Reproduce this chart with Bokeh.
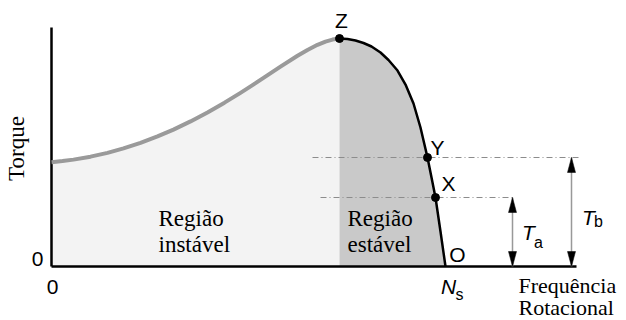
import numpy as np
from bokeh.plotting import figure
from bokeh.models import Range1d
from bokeh.core.properties import value
from bokeh.embed import file_html
from bokeh.resources import INLINE

# Torque-speed characteristic of an induction motor
# speed in % of synchronous speed Ns, torque in % of breakdown torque
speed_pct = [0, 2.79, 5.58, 9.90, 14.21, 18.27, 22.59, 26.90, 30.96, 35.28, 39.59,
             43.91, 47.97, 51.02, 53.81, 58.12, 62.44, 64.97, 67.51, 69.54, 71.32,
             73.10, 75.13, 77.16, 79.19, 81.22, 83.50, 85.53, 87.82, 89.85, 91.88,
             93.65, 95.43, 96.45, 97.46, 98.73, 100]
torque_pct = [45.75, 46.24, 46.88, 48.17, 49.85, 51.78, 54.22, 57.04, 60.05, 63.63, 67.59,
              71.86, 76.16, 79.55, 82.75, 87.70, 92.43, 94.98, 97.22, 98.65, 99.53,
              100.0, 99.78, 99.12, 98.03, 96.49, 93.86, 90.57, 85.96, 79.82, 71.49,
              60.96, 47.81, 39.04, 30.26, 15.35, 0]

# named operating points on the curve
point_names = ["Z", "Y", "X"]
point_speed = [73.10, 95.43, 97.46]
point_torque = [100.0, 47.81, 30.26]

breakdown_speed = point_speed[0]
torque_a = point_torque[2]
torque_b = point_torque[1]

# pixel layout helpers (origin of the axes and scale in px per unit)
W, H = 626, 320
OX, OY = 51, 266
SX, SY = 3.94, 2.28


def dx(px):
    return (px - OX) / SX


def dy(py):
    return (OY - py) / SY


p = figure(width=W, height=H, x_range=Range1d(dx(0), dx(W)), y_range=Range1d(dy(H), dy(0)),
           output_backend="svg", toolbar_location=None, min_border=0,
           x_axis_location=None, y_axis_location=None)
p.grid.visible = False
p.outline_line_color = None
p.background_fill_color = "white"
p.border_fill_color = "white"

s = np.array(speed_pct)
t = np.array(torque_pct)
unstable = s <= breakdown_speed
stable = s >= breakdown_speed

# shaded regions
p.varea(x=s[unstable], y1=0, y2=t[unstable], fill_color="#f3f3f3")
p.varea(x=s[stable], y1=0, y2=t[stable], fill_color="#c9c9c9")

# reference levels for the two load torques
dash = "6 3 1 3"
p.line(x=[dx(312), dx(578)], y=[torque_b, torque_b], line_color="#8c8c8c",
       line_width=1.2, line_dash=dash)
p.line(x=[dx(320), dx(515)], y=[torque_a, torque_a], line_color="#8c8c8c",
       line_width=1.2, line_dash=dash)

# axes drawn as plain lines
p.line(x=[0, 0], y=[0, dy(27)], line_color="black", line_width=2.5)
p.line(x=[0, dx(576)], y=[0, 0], line_color="black", line_width=2.5)

# the characteristic curve
p.line(x=s[unstable], y=t[unstable], line_color="#9a9a9a", line_width=4, line_join="round")
p.line(x=s[stable], y=t[stable], line_color="black", line_width=2.5, line_join="round")

p.scatter(x=point_speed, y=point_torque, size=8, fill_color="black", line_color="black")

# double headed dimension arrows for Ta and Tb
head_len = 15 / SY
head_half = 4 / SX
for ax_px, level in [(512, torque_a), (571, torque_b)]:
    xa = dx(ax_px)
    p.line(x=[xa, xa], y=[0, level], line_color="#999999", line_width=1.5)
    p.patches(xs=[[xa - head_half, xa, xa + head_half], [xa - head_half, xa, xa + head_half]],
              ys=[[level - head_len, level, level - head_len], [head_len, 0, head_len]],
              fill_color="black", line_color="black", line_width=0.5)

sans = value("Liberation Sans")
serif = value("Liberation Serif")

# point labels
p.text(x=point_speed, y=point_torque, text=point_names, x_offset=[2, 10, 13], y_offset=[-18, -10, -14],
       text_font=sans, text_font_size="21px", text_align="center", text_baseline="middle")
p.text(x=[100], y=[0], text=["O"], x_offset=[12], y_offset=[-12],
       text_font=sans, text_font_size="21px", text_align="center", text_baseline="middle")

# Ns, Ta, Tb with subscripts
p.text(x=[dx(448), dx(528), dx(588)], y=[dy(286), dy(232), dy(217)], text=["N", "T", "T"],
       text_font=sans, text_font_style="italic", text_font_size="21px",
       text_align="center", text_baseline="middle")
p.text(x=[dx(459), dx(538), dx(598)], y=[dy(294), dy(242), dy(221)], text=["s", "a", "b"],
       text_font=sans, text_font_size="16px", text_align="center", text_baseline="middle")

# zero marks
p.text(x=[dx(37), dx(52)], y=[dy(258), dy(286)], text=["0", "0"],
       text_font=sans, text_font_size="21px", text_align="center", text_baseline="middle")

# region captions and axis titles
p.text(x=[dx(158), dx(158), dx(347), dx(347)], y=[dy(218), dy(244), dy(218), dy(244)],
       text=["Região", "instável", "Região", "estável"],
       text_font=serif, text_font_size="23px", text_align="left", text_baseline="alphabetic")
p.text(x=[dx(518), dx(518)], y=[dy(285), dy(307)], text=["Frequência", "Rotacional"],
       text_font=serif, text_font_size="22px", text_align="left", text_baseline="alphabetic")
p.text(x=[dx(16)], y=[dy(148)], text=["Torque"], angle=np.pi / 2,
       text_font=serif, text_font_size="23px", text_align="center", text_baseline="middle")

open("out.html", "w").write(file_html(p, INLINE))
